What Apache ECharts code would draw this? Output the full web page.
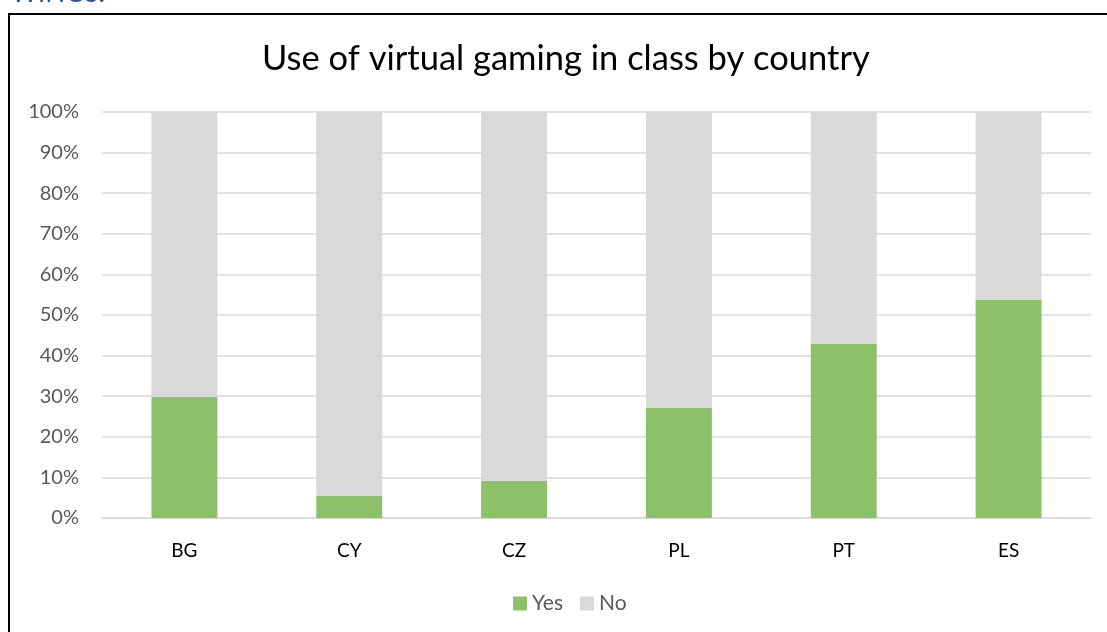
<!DOCTYPE html>
<html>
<head>
<meta charset="utf-8">
<script src="https://cdn.jsdelivr.net/npm/echarts@6/dist/echarts.min.js"></script>
<style>
html,body{margin:0;padding:0;background:#fff;}
#chart{width:1107px;height:632px;}
</style>
</head>
<body>
<div id="chart"></div>
<script>
const categories = ['BG', 'CY', 'CZ', 'PL', 'PT', 'ES'];
const yesValues = [29.8, 5.4, 9.2, 27.1, 42.9, 53.7];
const noValues = yesValues.map(v => +(100 - v).toFixed(1));
const yTicks = [0, 10, 20, 30, 40, 50, 60, 70, 80, 90, 100];

const chart = echarts.init(document.getElementById('chart'));
chart.setOption({
  animation: false,
  backgroundColor: '#fff',
  title: {
    text: 'Use of virtual gaming in class by country',
    left: 257,
    top: 36,
    textStyle: { fontFamily: 'Lato', fontSize: 34.5, fontWeight: 'normal', color: '#000' }
  },
  graphic: [
    { type: 'rect', shape: { x: 9, y: 14, width: 1200, height: 700 },
      style: { fill: 'none', stroke: '#000', lineWidth: 2 }, z: 100 },
    { type: 'text', left: 12, top: -21,
      style: { text: 'WINGS.', fontFamily: 'Lato', fontStyle: 'italic', fontSize: 28, fill: '#2F5496' } }
  ],
  legend: {
    data: ['Yes', 'No'],
    bottom: 13,
    left: 508,
    itemWidth: 14,
    itemHeight: 14,
    itemGap: 17,
    icon: 'rect',
    textStyle: { fontFamily: 'Lato', fontSize: 21, color: '#595959' }
  },
  grid: { left: 102, right: 16, top: 112, bottom: 114, containLabel: false },
  xAxis: {
    type: 'category',
    data: categories,
    axisLine: { lineStyle: { color: '#d9d9d9', width: 1.5 } },
    axisTick: { show: false },
    axisLabel: { fontFamily: 'Lato', fontSize: 19, color: '#000', margin: 23 }
  },
  yAxis: {
    type: 'value',
    min: 0, max: 100, interval: 10,
    axisLine: { show: false },
    axisTick: { show: false },
    splitLine: { lineStyle: { color: '#d9d9d9', width: 1.5 } },
    axisLabel: {
      fontFamily: 'Lato', fontSize: 20, color: '#595959', margin: 23,
      formatter: v => (yTicks.includes(v) ? v + '%' : '')
    }
  },
  series: [
    { name: 'Yes', type: 'bar', stack: 'total', data: yesValues,
      barCategoryGap: '60%', itemStyle: { color: '#8CC16A' } },
    { name: 'No', type: 'bar', stack: 'total', data: noValues,
      barCategoryGap: '60%', itemStyle: { color: '#D9D9D9' } }
  ]
});
</script>
</body>
</html>
